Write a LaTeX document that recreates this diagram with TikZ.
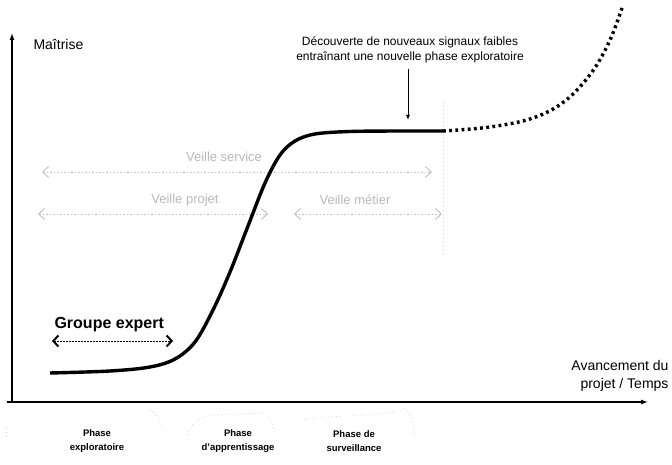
\documentclass[tikz,border=0pt]{standalone}
\usepackage{fontspec}
\setmainfont{Liberation Sans}
\usetikzlibrary{arrows.meta}
\begin{document}
\begin{tikzpicture}[x=1pt,y=-1pt,
  axis/.style={line width=1.3pt,-{Latex[length=7pt,width=5pt]}},
  greyarrow/.style={gray!50, line width=0.9pt, dash pattern=on 1.5pt off 2pt,
    {Straight Barb[length=6pt,width=11pt,line width=0.9pt]}-{Straight Barb[length=6pt,width=11pt,line width=0.9pt]}},
  greytext/.style={text=gray!55, font=\fontsize{13}{15}\selectfont},
  phase/.style={font=\fontsize{9.5}{14.5}\selectfont\bfseries, align=center},
  faint/.style={gray!35, line width=0.6pt, dash pattern=on 1pt off 3pt}
]
\useasboundingbox (0,0) rectangle (672,465);

% axes
\coordinate (o) at (12,402);
\coordinate (ytop) at (12,33);
\coordinate (xend) at (648,402);
\draw[axis] (12,403) -- (ytop);
\draw[axis] (7,402) -- (xend);

\node[anchor=west, font=\fontsize{14}{16}\selectfont] (maitrise) at (30,44) {Maîtrise};
\node[anchor=east, align=right, font=\fontsize{14}{18}\selectfont] (avanc) at (672,376) {Avancement du\\projet / Temps};

% faint separator
\draw[faint] (443,102) -- (443,255);

% veille arrows
\node[greytext] (vservice) at (224,157) {Veille service};
\coordinate (vs1) at (42,172);
\coordinate (vs2) at (432,172);
\draw[greyarrow] (vs1) -- (vs2);

\node[greytext] (vprojet) at (185,200) {Veille projet};
\coordinate (vp1) at (38,214);
\coordinate (vp2) at (268,214);
\draw[greyarrow] (vp1) -- (vp2);

\node[greytext] (vmetier) at (355,200) {Veille métier};
\coordinate (vm1) at (294,214);
\coordinate (vm2) at (442,214);
\draw[greyarrow] (vm1) -- (vm2);

% main curve
\draw[line width=3.4pt, line cap=butt]
  plot[smooth, tension=0.55] coordinates {(50,373) (110,371) (150,367) (175,359) (195,342) (213,310) (230,272) (248,226) (265,183) (280,155) (295,141) (315,134) (350,131.5) (400,131) (443,131)};

% dotted continuation
\draw[line width=3.4pt, dash pattern=on 2.8pt off 3.4pt]
  plot[smooth, tension=0.6] coordinates {(443,131) (490,127) (533,118) (565,101) (592,72) (610,40) (622,8)};

% discovery annotation
\node[align=center, font=\fontsize{12}{15}\selectfont] (decouv) at (410,50) {Découverte de nouveaux signaux faibles\\entraînant une nouvelle phase exploratoire};
\coordinate (dtip) at (408,120);
\draw[line width=1pt, -{Latex[length=5pt,width=4pt]}] (decouv.south -| dtip) ++(0,2) -- (dtip);

% groupe expert
\node[anchor=west, font=\fontsize{16}{18}\selectfont\bfseries] (groupe) at (51,325) {Groupe expert};
\coordinate (g1) at (52,341);
\coordinate (g2) at (173,341);
\draw[line width=1pt, dash pattern=on 1.3pt off 1.7pt,
  {Straight Barb[length=5pt,width=11pt,line width=2pt]}-{Straight Barb[length=5pt,width=11pt,line width=2pt]}] (g1) -- (g2);

% phases
\node[phase] (p1) at (97,441) {Phase\\exploratoire};
\node[phase] (p2) at (238,441) {Phase\\d'apprentissage};
\node[phase] (p3) at (354,441) {Phase de\\surveillance};

% faint arcs around phases
\draw[faint] (150,410) .. controls (158,414) and (160,422) .. (162,430);
\draw[faint] (188,440) .. controls (186,428) and (196,418) .. (210,415) -- (262,413);
\draw[faint] (262,413) .. controls (270,415) and (274,424) .. (274,434);
\draw[faint] (300,420) .. controls (320,416) and (370,416) .. (396,412);
\draw[faint] (404,408) .. controls (412,414) and (414,424) .. (414,434);
\draw[faint] (6,428) -- (6,440);
\end{tikzpicture}
\end{document}
